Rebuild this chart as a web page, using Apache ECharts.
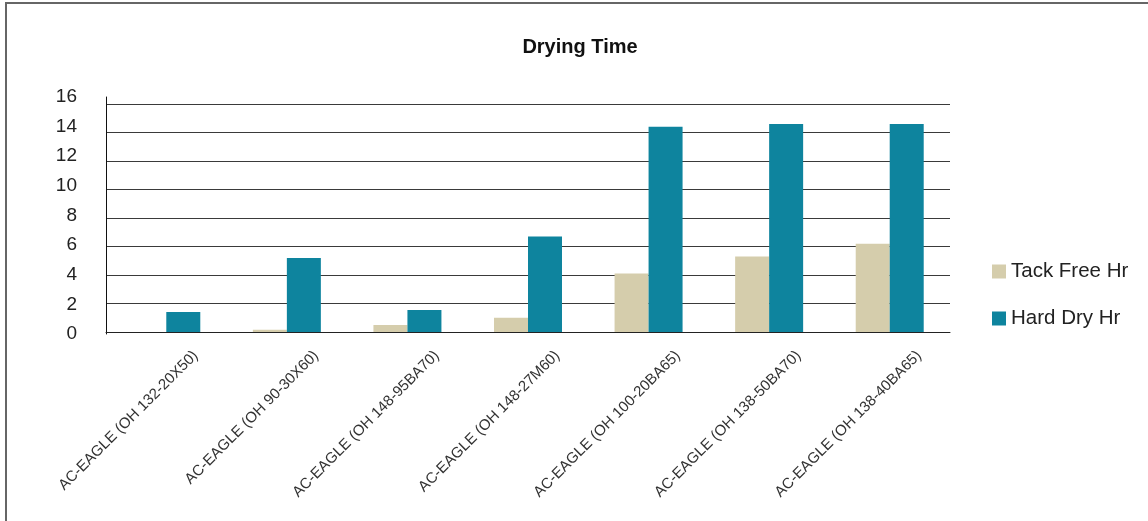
<!DOCTYPE html>
<html>
<head>
<meta charset="utf-8">
<script src="https://cdn.jsdelivr.net/npm/echarts@6/dist/echarts.min.js"></script>
<style>
html,body{margin:0;padding:0;background:#fff;overflow:hidden;}
#frame{position:absolute;left:5px;top:2px;width:1200px;height:600px;border:2px solid #666;box-sizing:border-box;}
#chart{position:absolute;left:0;top:0;width:1148px;height:521px;}
</style>
</head>
<body>
<div id="frame"></div>
<div id="chart"></div>
<script>
const categories = [
  'AC-EAGLE (OH 132-20X50)',
  'AC-EAGLE (OH 90-30X60)',
  'AC-EAGLE (OH 148-95BA70)',
  'AC-EAGLE (OH 148-27M60)',
  'AC-EAGLE (OH 100-20BA65)',
  'AC-EAGLE (OH 138-50BA70)',
  'AC-EAGLE (OH 138-40BA65)'
];
const tackFree = [0, 0.15, 0.5, 1.0, 4.1, 5.3, 6.2];
const hardDry = [1.4, 5.2, 1.55, 6.7, 14.4, 14.6, 14.6];
const seriesNames = ['Tack Free Hr', 'Hard Dry Hr'];
const title = 'Drying Time';
const yMin = 0, yMax = 16, yStep = 2;

const chart = echarts.init(document.getElementById('chart'), null, {renderer: 'canvas'});
const font = '"Liberation Sans", Arial, Helvetica, sans-serif';
chart.setOption({
  animation: false,
  title: {
    text: title, left: 575, textAlign: 'center', top: 32,
    textStyle: {fontFamily: font, fontSize: 20, fontWeight: 'bold', color: '#111'}
  },
  legend: {
    orient: 'vertical', left: 987, top: 256, itemGap: 26,
    itemWidth: 14, itemHeight: 14, icon: 'rect',
    textStyle: {fontFamily: font, fontSize: 20.5, color: '#222'},
    data: seriesNames
  },
  grid: [
    {left: 106, right: 198, top: 104, bottom: 189},
    {left: 106, right: 198, top: 97, bottom: 187}
  ],
  xAxis: [
    {
      type: 'category', data: categories, gridIndex: 0,
      axisLine: {show: true, lineStyle: {color: '#222', width: 1}},
      axisTick: {show: false},
      axisLabel: {rotate: 45, interval: 0, margin: -8, verticalAlign: 'top', padding: [34, 0, 0, 0],
        fontFamily: font, fontSize: 15, color: '#333'}
    },
    {type: 'category', data: categories, gridIndex: 1, show: false}
  ],
  yAxis: [
    {
      type: 'value', min: yMin, max: yMax, interval: yStep, gridIndex: 0,
      axisLine: {show: false},
      axisTick: {show: false},
      axisLabel: {show: false},
      splitLine: {lineStyle: {color: '#3a3a3a', width: 1}}
    },
    {
      type: 'value', min: yMin, max: yMax, interval: yStep, gridIndex: 1,
      axisLine: {show: true, lineStyle: {color: '#111', width: 1}},
      axisTick: {show: false},
      splitLine: {show: false},
      axisLabel: {margin: 29, fontFamily: font, fontSize: 19, color: '#222'}
    }
  ],
  series: [
    {name: seriesNames[0], type: 'bar', data: tackFree, barWidth: 34, barGap: '0%',
     itemStyle: {color: '#D5CDAC'}},
    {name: seriesNames[1], type: 'bar', data: hardDry, barWidth: 34, barGap: '0%',
     itemStyle: {color: '#0E849E'}}
  ]
});
</script>
</body>
</html>
